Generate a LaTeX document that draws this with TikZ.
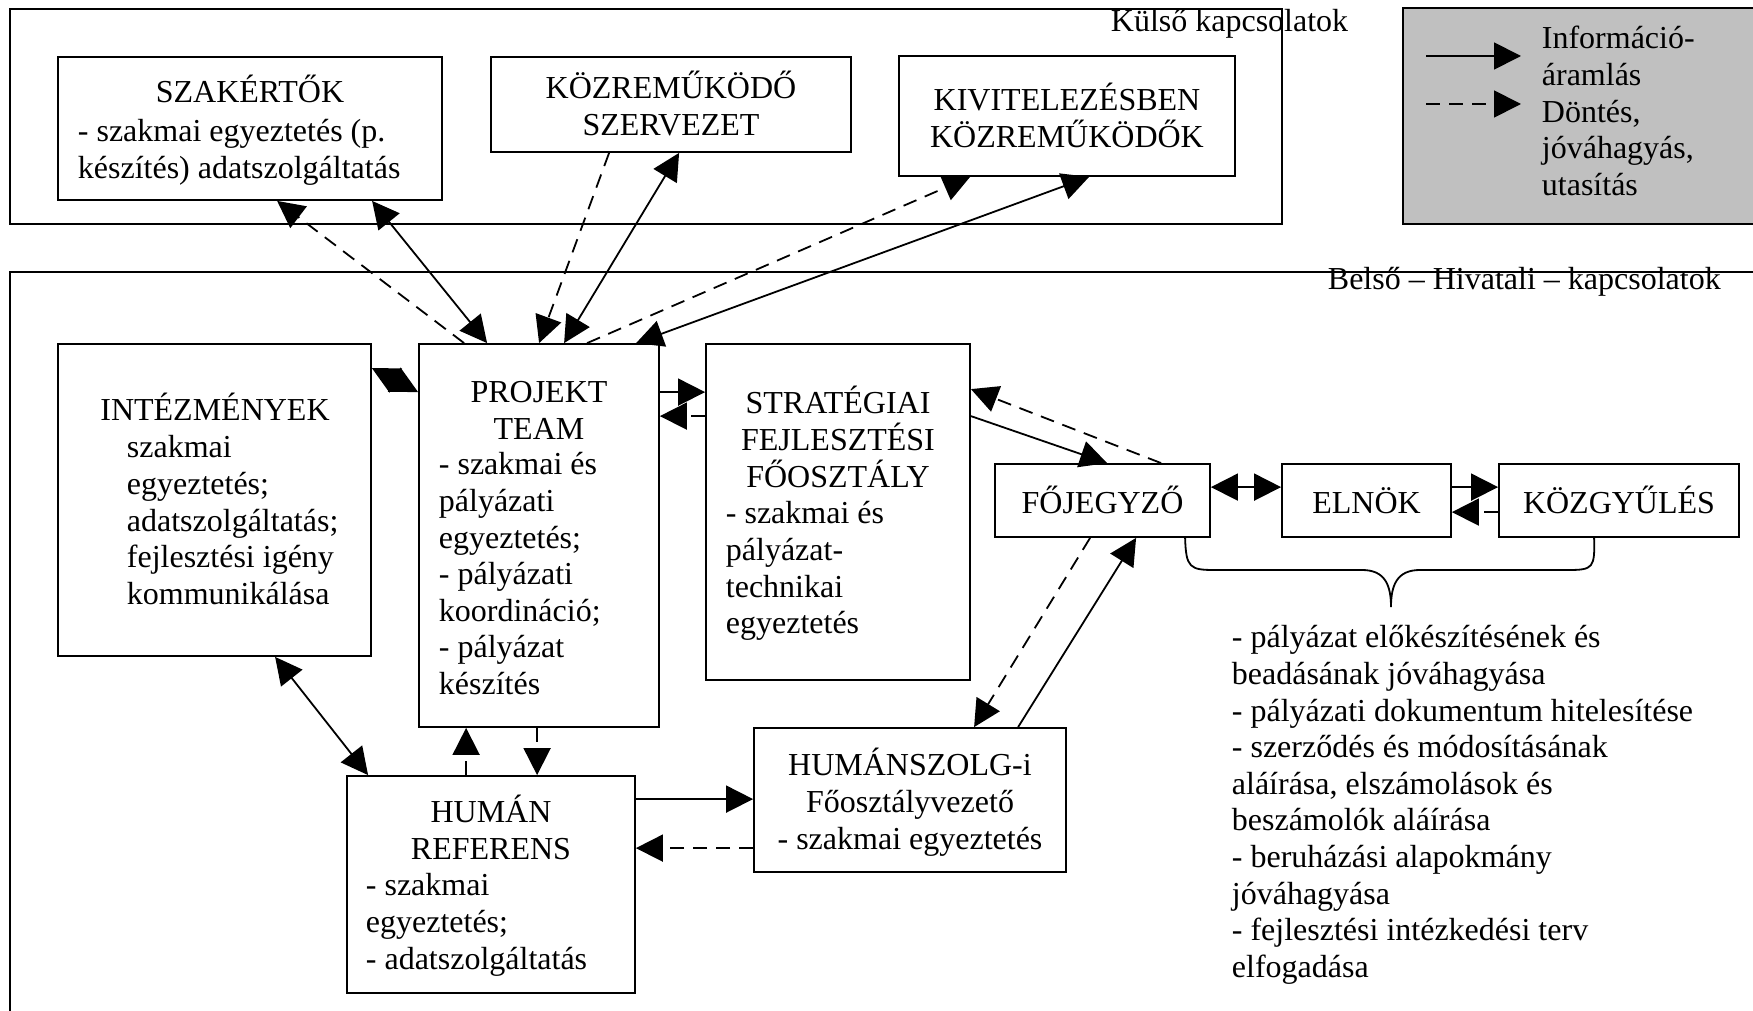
\documentclass[tikz,border=0pt]{standalone}
\usepackage{fontspec}
\setmainfont{Liberation Serif}
\usetikzlibrary{arrows.meta,calc}
\newcommand\R{\rule{0pt}{16pt}}
\newcommand\tf{\fontsize{16}{18.3}\selectfont}
\definecolor{leggray}{RGB}{192,192,192}
\begin{document}
\begin{tikzpicture}[x=0.5pt,y=-0.5pt,line width=0.9pt,
  >={Triangle[length=13.5pt,width=13.5pt]},
  box/.style={draw,fill=white,inner sep=0pt},
  frame/.style={draw,inner sep=0pt},
  txt/.style={inner sep=0pt,font=\tf},
  lbox/.style={box,font=\tf,text height=12.5pt,text depth=0pt},
  info/.style={->},
  infob/.style={<->},
  dec/.style={->,dash pattern=on 7pt off 4.5pt}]
\useasboundingbox (0,0) rectangle (1753,1011);
\clip (0,0) rectangle (1753,1011);
% frames
\node[frame,minimum width=636pt,minimum height=107.5pt] (kulso) at (646,116.5) {};
\node[frame,fill=leggray,minimum width=181pt,minimum height=108pt] (legend) at (1584,116) {};
\node[frame,minimum width=880pt,minimum height=379pt] (belso) at (890,651) {};
\node[txt,anchor=base west] (tkulso) at (1110,32) {Külső kapcsolatok};
\node[txt,anchor=base west] (tbelso) at (1327,289) {Belső – Hivatali – kapcsolatok};
% legend
\coordinate (l1a) at (1426,56); \coordinate (l1b) at (1521,56);
\coordinate (l2a) at (1426,104); \coordinate (l2b) at (1521,104);
\draw[info] (l1a) -- (l1b);
\draw[dec] (l2a) -- (l2b);
\node[txt,anchor=north west,align=left] (tleg) at (1541,16) {\R Információ-\\áramlás\\Döntés,\\jóváhagyás,\\utasítás};
% boxes
\node[box,minimum width=192pt,minimum height=71.5pt] (szak) at (250,128.5) {};
\node[box,minimum width=180pt,minimum height=47.5pt] (koz) at (671,104.5) {};
\node[box,minimum width=168pt,minimum height=60pt] (kiv) at (1067,116) {};
\node[box,minimum width=156.5pt,minimum height=156pt] (int) at (214.5,500) {};
\node[box,minimum width=120pt,minimum height=191.5pt] (pt) at (539,535.5) {};
\node[box,minimum width=132pt,minimum height=168pt] (str) at (838,512) {};
\node[lbox,minimum width=107.5pt,minimum height=36.5pt] (foj) at (1102.5,500.5) {FŐJEGYZŐ};
\node[lbox,minimum width=84.5pt,minimum height=36.5pt] (eln) at (1366.5,500.5) {ELNÖK};
\node[lbox,minimum width=120pt,minimum height=36.5pt] (kgy) at (1619,500.5) {KÖZGYŰLÉS};
\node[box,minimum width=156pt,minimum height=72pt] (hsz) at (910,800) {};
\node[box,minimum width=144pt,minimum height=108.5pt] (hr) at (491,884.5) {};
% box texts
\node[txt,anchor=base] (tszak) at (250,103) {SZAKÉRTŐK};
\node[txt,anchor=north west,align=left] (tszak2) at (77,109) {\R - szakmai egyeztetés (p.\\készítés) adatszolgáltatás};
\node[txt,anchor=north,align=center] (tkoz) at (671,66) {\R KÖZREMŰKÖDŐ\\SZERVEZET};
\node[txt,anchor=north,align=center] (tkiv) at (1067,78) {\R KIVITELEZÉSBEN\\KÖZREMŰKÖDŐK};
\node[txt,anchor=base] (tint) at (215,420) {INTÉZMÉNYEK};
\node[txt,anchor=north west,align=left] (tint2) at (126,425) {\R szakmai\\egyeztetés;\\adatszolgáltatás;\\fejlesztési igény\\kommunikálása};
\node[txt,anchor=north,align=center] (tpt) at (539,370) {\R PROJEKT\\TEAM};
\node[txt,anchor=north west,align=left] (tpt2) at (438,442) {\R - szakmai és\\pályázati\\egyeztetés;\\- pályázati\\koordináció;\\- pályázat\\készítés};
\node[txt,anchor=north,align=center] (tstr) at (838,381) {\R STRATÉGIAI\\FEJLESZTÉSI\\FŐOSZTÁLY};
\node[txt,anchor=north west,align=left] (tstr2) at (725,491) {\R - szakmai és\\pályázat-\\technikai\\egyeztetés};
\node[txt,anchor=north,align=center] (thsz) at (910,743) {\R HUMÁNSZOLG-i\\Főosztályvezető\\- szakmai egyeztetés};
\node[txt,anchor=north,align=center] (thr) at (491,790) {\R HUMÁN\\REFERENS};
\node[txt,anchor=north west,align=left] (thr2) at (365,863) {\R - szakmai\\egyeztetés;\\- adatszolgáltatás};
\node[txt,anchor=north west,align=left] (tlist) at (1231,615) {\R - pályázat előkészítésének és\\beadásának jóváhagyása\\- pályázati dokumentum hitelesítése\\- szerződés és módosításának\\aláírása, elszámolások és\\beszámolók aláírása\\- beruházási alapokmány\\jóváhagyása\\- fejlesztési intézkedési terv\\elfogadása};
% connectors external
\draw[dec] ($(pt.north west)+(46,0)$) -- ($(szak.south west)+(220,0)$);
\draw[infob] ($(szak.south west)+(315,0)$) -- ($(pt.north west)+(69,0)$);
\draw[dec] ($(koz.south west)+(119,0)$) -- ($(pt.north west)+(121,0)$);
\draw[infob] ($(pt.north west)+(146,0)$) -- ($(koz.south west)+(189,0)$);
\draw[dec] ($(pt.north west)+(169,0)$) -- ($(kiv.south west)+(72,0)$);
\draw[infob] ($(pt.north west)+(218,0)$) -- ($(kiv.south west)+(191,0)$);
% internal
\draw[infob] ($(int.north east)+(0,25)$) -- ($(pt.north west)+(0,49)$);
\draw[info] ($(pt.north east)+(0,49)$) -- ($(str.north west)+(0,49)$);
\draw[dec] ($(str.north west)+(0,73)$) -- ($(pt.north east)+(0,73)$);
\draw[info] ($(str.north east)+(0,73)$) -- ($(foj.north west)+(113,0)$);
\draw[dec] ($(foj.north west)+(167,0)$) -- ($(str.north east)+(0,46)$);
\draw[infob] ($(foj.north east)+(0,24)$) -- ($(eln.north west)+(0,24)$);
\draw[info] ($(eln.north east)+(0,24)$) -- ($(kgy.north west)+(0,24)$);
\draw[dec] ($(kgy.north west)+(0,49)$) -- ($(eln.north east)+(0,49)$);
\draw[dec] ($(foj.south west)+(96,0)$) -- ($(hsz.north west)+(221,0)$);
\draw[info] ($(hsz.north west)+(265,0)$) -- ($(foj.south west)+(142,0)$);
\draw[info] ($(hr.north east)+(0,24)$) -- ($(hsz.north west)+(0,72)$);
\draw[dec] ($(hsz.north west)+(0,121)$) -- ($(hr.north east)+(0,73)$);
\draw[dec] ($(hr.north west)+(120,0)$) -- ($(pt.south west)+(48,0)$);
\draw[dec] ($(pt.south west)+(119,0)$) -- ($(hr.north west)+(191,0)$);
\draw[infob] ($(int.south west)+(218,0)$) -- ($(hr.north west)+(22,0)$);
% brace
\coordinate (bl) at ($(foj.south west)+(191,0)$);
\coordinate (br) at ($(kgy.south west)+(96,0)$);
\draw (bl) .. controls (1186,568) and (1190,570) .. (1215,570) -- (1362,570)
  .. controls (1385,570) and (1391,585) .. (1391,607)
  .. controls (1391,585) and (1397,570) .. (1420,570) -- (1568,570)
  .. controls (1593,570) and (1595,568) .. (br);
\end{tikzpicture}
\end{document}
